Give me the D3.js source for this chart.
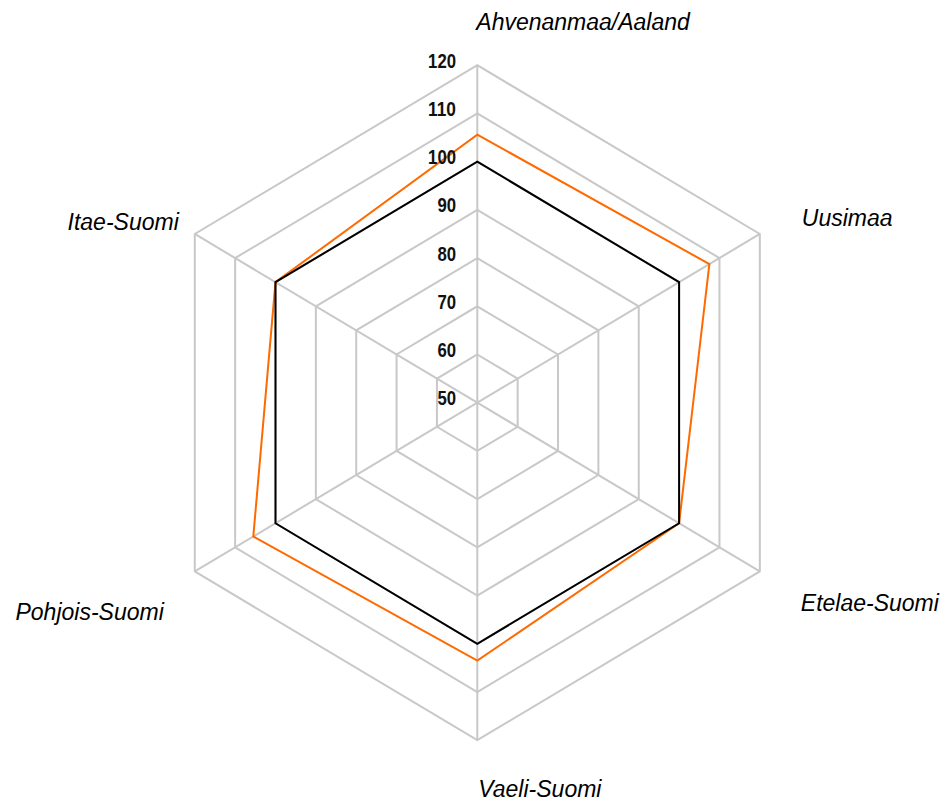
<!DOCTYPE html>
<html>
<head>
<meta charset="utf-8">
<script src="https://cdn.jsdelivr.net/npm/d3@7"></script>
<style>
  html, body { margin: 0; padding: 0; background: #ffffff; }
  svg { display: block; }
</style>
</head>
<body>
<svg id="chart" width="948" height="803"></svg>
<script>
// ---- data ----
const categories = ["Ahvenanmaa/Aaland", "Uusimaa", "Etelae-Suomi", "Vaeli-Suomi", "Pohjois-Suomi", "Itae-Suomi"];
const seriesBlack = [100, 100, 100, 100, 100, 100];
const seriesOrange = [105.6, 107.5, 100, 103.5, 105.5, 100];
const tickValues = [50, 60, 70, 80, 90, 100, 110, 120];
const tickLabels = ["50", "60", "70", "80", "90", "100", "110", "120"];

// ---- layout ----
const W = 948, H = 803;
const cx = 477.3, cy = 402.7;
const R = 337.5;
const kx = 0.9666; // horizontal squash of the original
const svg = d3.select("#chart");

const rScale = d3.scaleLinear().domain([50, 120]).range([0, R]);
const angle = d3.scaleLinear().domain([0, categories.length]).range([0, 2 * Math.PI]);

function pt(i, v) {
  const a = angle(i);
  const r = rScale(v);
  return [cx + r * Math.sin(a) * kx, cy - r * Math.cos(a)];
}

const line = d3.line().curve(d3.curveLinearClosed);

// grid rings
const g = svg.append("g");
tickValues.filter(v => v > 50).forEach(v => {
  g.append("path")
    .attr("d", line(categories.map((c, i) => pt(i, v))))
    .attr("fill", "none")
    .attr("stroke", "#c8c8c8")
    .attr("stroke-width", 2);
});
// spokes
categories.forEach((c, i) => {
  const [x, y] = pt(i, 120);
  g.append("line")
    .attr("x1", cx).attr("y1", cy).attr("x2", x).attr("y2", y)
    .attr("stroke", "#c8c8c8").attr("stroke-width", 2);
});

// series
svg.append("path")
  .attr("d", line(seriesOrange.map((v, i) => pt(i, v))))
  .attr("fill", "none").attr("stroke", "#ff6a00").attr("stroke-width", 2)
  .attr("stroke-linejoin", "miter");
svg.append("path")
  .attr("d", line(seriesBlack.map((v, i) => pt(i, v))))
  .attr("fill", "none").attr("stroke", "#000000").attr("stroke-width", 2)
  .attr("stroke-linejoin", "miter");

// tick labels
tickValues.forEach((v, k) => {
  svg.append("text")
    .attr("x", 456)
    .attr("y", cy - rScale(v) + 2.5)
    .attr("text-anchor", "end")
    .attr("font-family", "'Liberation Sans Narrow', 'Liberation Sans', Arial, sans-serif")
    .attr("font-weight", "bold")
    .attr("font-size", 19.5)
    .attr("textLength", tickLabels[k].length * 9.3)
    .attr("lengthAdjust", "spacingAndGlyphs")
    .attr("fill", "#111")
    .text(tickLabels[k]);
});

// category labels (nudges relative to outer ring vertex)
const labelNudge = [
  {dx: -1, dy: -35, anchor: "start"},
  {dx: 42, dy: -8, anchor: "start"},
  {dx: 41, dy: 40, anchor: "start"},
  {dx: 1, dy: 57, anchor: "start"},
  {dx: -31, dy: 49, anchor: "end"},
  {dx: -16, dy: -4, anchor: "end"}
];
categories.forEach((c, i) => {
  const [x, y] = pt(i, 120);
  svg.append("text")
    .attr("x", x + labelNudge[i].dx)
    .attr("y", y + labelNudge[i].dy)
    .attr("text-anchor", labelNudge[i].anchor)
    .attr("font-family", "'Liberation Sans', Arial, sans-serif")
    .attr("font-style", "italic")
    .attr("font-size", 23)
    .attr("fill", "#000")
    .text(c);
});
</script>
</body>
</html>
